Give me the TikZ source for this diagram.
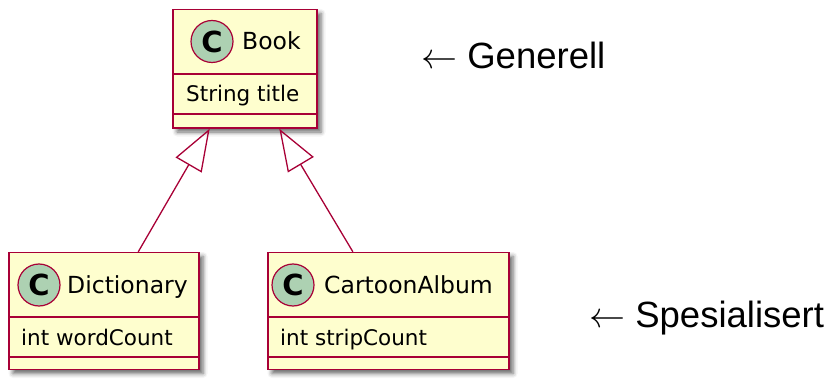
\documentclass[tikz,border=0pt]{standalone}
\usepackage{graphicx}
\usepackage{fontspec}
\setmainfont{Liberation Sans}
\newfontfamily\umlfont{DejaVu Sans}
\usetikzlibrary{arrows.meta,calc,shadows.blur}
\definecolor{umlfill}{HTML}{FEFECE}
\definecolor{umlline}{HTML}{A80036}
\definecolor{umlcirc}{HTML}{ADD1B2}
\newcommand{\myLarr}{\scalebox{3.6}{\fontsize{10}{12}\selectfont$\leftarrow$}}
\tikzset{
  classbox/.style={draw=umlline, fill=umlfill, line width=1.4pt, inner sep=0pt,
    blur shadow={shadow xshift=4pt, shadow yshift=-4pt, shadow blur radius=4.5pt, shadow opacity=60}},
  sepline/.style={draw=umlline, line width=1.4pt},
  cbadge/.style={circle, draw=umlline, fill=umlcirc, line width=1.2pt, minimum size=42pt, inner sep=0pt,
    font=\umlfont\bfseries\fontsize{29}{29}\selectfont},
  cname/.style={anchor=base west, inner sep=0pt, font=\umlfont\fontsize{23.5}{24}\selectfont},
  attr/.style={anchor=base west, inner sep=0pt, font=\umlfont\fontsize{21.5}{22}\selectfont},
  ext/.style={draw=umlline, line width=1.3pt, -{Triangle[open, length=42pt, width=30pt, line width=1.3pt]}},
  bigtext/.style={anchor=base west, inner sep=0pt, font=\fontsize{36.5}{38}\selectfont}
}
\begin{document}
\begin{tikzpicture}[x=1pt, y=-1pt]
\useasboundingbox (0,0) rectangle (834,379);
% Book
\node[classbox, minimum width=144pt, minimum height=118.5pt] (book) at (245,68.75) {};
\draw[sepline] (book.west |- 0,74) -- (book.east |- 0,74);
\draw[sepline] (book.west |- 0,114) -- (book.east |- 0,114);
\node[cbadge] (bookc) at (212,41.5) {C};
\node[cname] (bookn) at (242,50) {Book};
\node[attr] (booka) at (186,101.8) {String title};
% Dictionary
\node[classbox, minimum width=190pt, minimum height=117pt] (dict) at (104,311) {};
\draw[sepline] (dict.west |- 0,317) -- (dict.east |- 0,317);
\draw[sepline] (dict.west |- 0,357) -- (dict.east |- 0,357);
\node[cbadge] (dictc) at (39,285) {C};
\node[cname] (dictn) at (67,293.5) {Dictionary};
\node[attr] (dicta) at (21,345.8) {int wordCount};
% CartoonAlbum
\node[classbox, minimum width=241pt, minimum height=117pt] (cart) at (388.5,311) {};
\draw[sepline] (cart.west |- 0,317) -- (cart.east |- 0,317);
\draw[sepline] (cart.west |- 0,357) -- (cart.east |- 0,357);
\node[cbadge] (cartc) at (293,285) {C};
\node[cname] (cartn) at (324,293.5) {CartoonAlbum};
\node[attr] (carta) at (280,345.8) {int stripCount};
% generalisations
\draw[ext] ($(dict.north west)!0.679!(dict.north east)$) -- ($(book.south west)!0.257!(book.south east)$);
\draw[ext] ($(cart.north west)!0.353!(cart.north east)$) -- ($(book.south west)!0.736!(book.south east)$);
% labels
\node[bigtext] (gen) at (421,69) {\myLarr{} Generell};
\node[bigtext] (spe) at (589,327) {\myLarr{} Spesialisert};
\end{tikzpicture}
\end{document}
